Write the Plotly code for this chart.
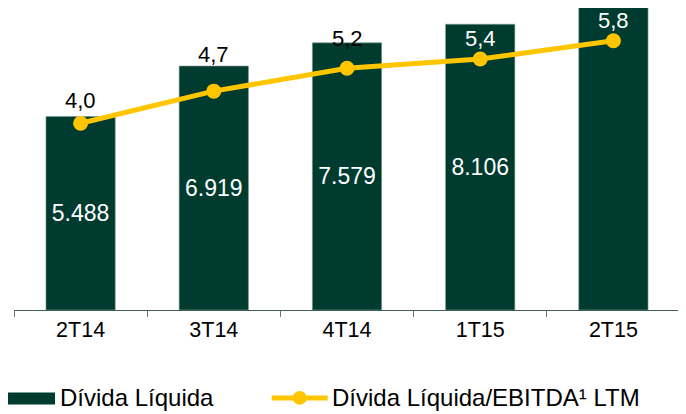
import plotly.graph_objects as go

# Data
quarters = ["2T14", "3T14", "4T14", "1T15", "2T15"]
net_debt = [5488, 6919, 7579, 8106, 8583]
leverage = [4.0, 4.7, 5.2, 5.4, 5.8]

GREEN = "#003B2F"
YELLOW = "#FFC600"
FONT = "Liberation Sans, Arial, sans-serif"

fig = go.Figure()
fig.add_trace(go.Bar(
    x=quarters,
    y=net_debt,
    name="Dívida Líquida",
    width=0.52,
    marker=dict(color=GREEN, line=dict(color="#7f9790", width=0.6)),
    text=[f"{v:,}".replace(",", ".") for v in net_debt],
    textposition="inside",
    insidetextanchor="middle",
    textangle=0,
    textfont=dict(color="white", size=23, family=FONT),
    cliponaxis=False,
))
fig.add_trace(go.Scatter(
    x=quarters,
    y=leverage,
    name="Dívida Líquida/EBITDA¹ LTM",
    mode="lines+markers",
    yaxis="y2",
    line=dict(color=YELLOW, width=5),
    marker=dict(color=YELLOW, size=15),
    cliponaxis=False,
))

# line labels, placed individually like the original
label_shift = [23, 37, 30, 21, 20]
label_color = ["black", "black", "black", "white", "white"]
for q, v, s, c in zip(quarters, leverage, label_shift, label_color):
    fig.add_annotation(x=q, y=v, xref="x", yref="y2", yshift=s,
                       text=f"{v:.1f}".replace(".", ","), showarrow=False,
                       font=dict(size=22, color=c, family=FONT))

# custom legend drawn below the axis
fig.add_shape(type="rect", xref="paper", yref="paper",
              x0=-0.0165, x1=0.0616, y0=-0.273, y1=-0.313,
              fillcolor=GREEN, line=dict(width=0))
fig.add_annotation(text="Dívida Líquida", xref="paper", yref="paper",
                   x=0.066, y=-0.291, xanchor="left", yanchor="middle", showarrow=False,
                   font=dict(size=24, color="black", family=FONT))
fig.add_shape(type="line", xref="paper", yref="paper",
              x0=0.387, x1=0.471, y0=-0.291, y1=-0.291,
              line=dict(color=YELLOW, width=5))
fig.add_shape(type="circle", xref="paper", yref="paper",
              x0=0.4185, x1=0.4395, y0=-0.268, y1=-0.314,
              fillcolor=YELLOW, line=dict(width=0))
fig.add_annotation(text="Dívida Líquida/EBITDA¹ LTM", xref="paper", yref="paper",
                   x=0.474, y=-0.291, xanchor="left", yanchor="middle", showarrow=False,
                   font=dict(size=24, color="black", family=FONT))

fig.update_layout(
    width=678,
    height=406,
    margin=dict(l=6, r=6, t=0, b=104),
    paper_bgcolor="white",
    plot_bgcolor="white",
    showlegend=False,
    font=dict(family=FONT, size=21, color="black"),
    xaxis=dict(
        showline=True, linecolor="#3d5f56", linewidth=1,
        ticks="outside", tickson="boundaries", ticklen=6, tickcolor="#5f7d75",
        tickfont=dict(size=21.5, color="black"),
        showgrid=False,
    ),
    yaxis=dict(range=[0, 8567], visible=False),
    yaxis2=dict(range=[-0.068, 6.512], overlaying="y", visible=False),
)

fig.write_html("out.html")
